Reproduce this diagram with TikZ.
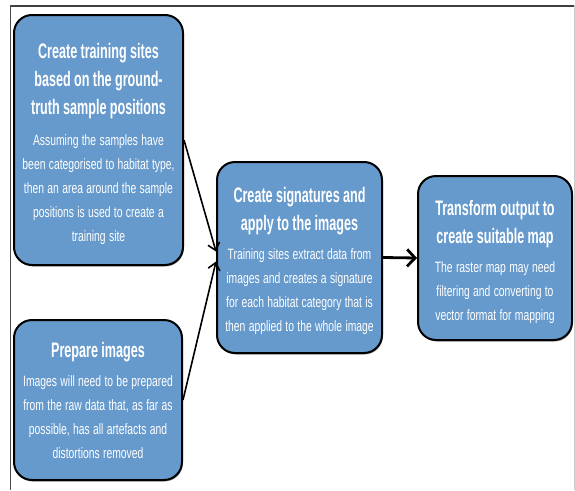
\documentclass[tikz,border=0pt]{standalone}
\usepackage{fontspec}
\setmainfont{Liberation Sans}
\newfontfamily\titlefont{Liberation Sans}[FakeStretch=0.6]
\newfontfamily\bodyfont{Liberation Sans}[FakeStretch=0.69]
\usetikzlibrary{arrows.meta,shadows}
\definecolor{boxblue}{RGB}{102,153,204}
\tikzset{
  stagebox/.style={draw=black, line width=2pt, fill=boxblue, rounded corners=18pt,
    text=white, align=center, inner sep=2pt,
    drop shadow={shadow xshift=0.8pt, shadow yshift=-1.5pt, fill=black, opacity=0.35}},
  flow/.style={line width=1.6pt, -{Straight Barb[length=7pt,width=12pt]}},
  bigflow/.style={line width=2.8pt, -{Straight Barb[length=8pt,width=17pt]}},
}
\newcommand{\ttl}[1]{{\titlefont\bfseries\fontsize{21}{28}\selectfont #1\par}\vspace{5pt}}
\newcommand{\bdy}[1]{{\bodyfont\fontsize{15}{24}\selectfont #1\par}}
\newcommand{\topstrut}{\rule{0pt}{23pt}}
\begin{document}
\begin{tikzpicture}[x=1pt,y=-1pt]
\useasboundingbox (0,0) rectangle (575,490);
\fill[white] (0,0) rectangle (575,490);
% frame
\draw[line width=2pt, black!75] (10,5.5) -- (575,5.5);
\draw[line width=1pt, black!70] (10.5,5) -- (10.5,490);
\draw[line width=1pt, black!20] (574.5,5) -- (574.5,490);
% boxes
\node[stagebox, minimum width=169pt, minimum height=250pt, text width=163pt] (b1) at (98.5,140)
  {\ttl{\topstrut Create training sites\\based on the ground-\\truth sample positions}\vspace{2pt}\bdy{Assuming the samples have\\been categorised to habitat type,\\then an area around the sample\\positions is used to create a\\training site}};
\node[stagebox, minimum width=168pt, minimum height=160pt, text width=162pt] (b2) at (98,400)
  {\ttl{Prepare images}\bdy{Images will need to be prepared\\from the raw data that, as far as\\possible, has all artefacts and\\distortions removed}};
\node[stagebox, minimum width=165pt, minimum height=191pt, text width=159pt] (b3) at (299.5,257.5)
  {\ttl{\topstrut Create signatures and\\apply to the images}\bdy{Training sites extract data from\\images and creates a signature\\for each habitat category that is\\then applied to the whole image}};
\node[stagebox, minimum width=154pt, minimum height=164pt, text width=148pt] (b4) at (495,258)
  {\ttl{\topstrut Transform output to\\create suitable map}\bdy{The raster map may need\\filtering and converting to\\vector format for mapping}};
% connectors
\draw[flow] (b1.east) -- ([yshift=6pt]b3.west);
\draw[flow] (b2.east) -- ([yshift=-4pt]b3.west);
\draw[bigflow] (b3.east) -- (b4.west);
\end{tikzpicture}
\end{document}
